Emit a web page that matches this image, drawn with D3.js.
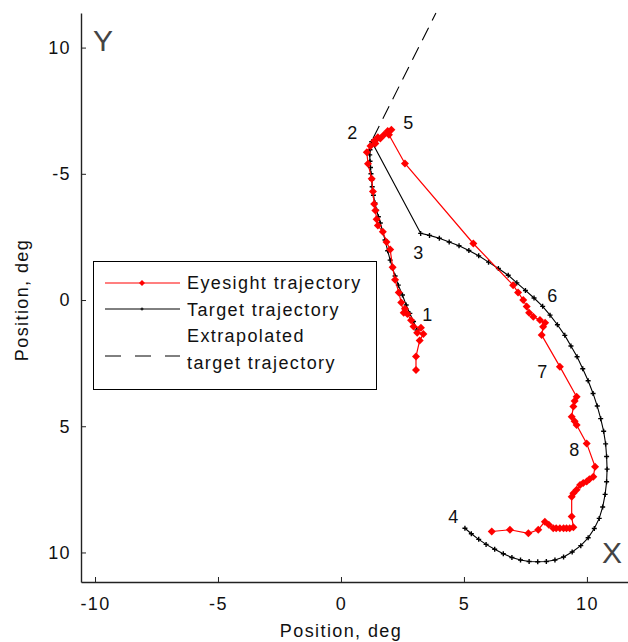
<!DOCTYPE html>
<html lang="en">
  <head>
    <meta charset="UTF-8" />
    <title>trajectory</title>
    <script src="https://cdn.jsdelivr.net/npm/d3@7/dist/d3.min.js"></script>
    <style>
      body { margin: 0; background: #fff; }
      text { font-family: "Liberation Sans", Arial, sans-serif; }
    </style>
  </head>
  <body>
    <div id="wrapper"></div>
    <script>
      // target trajectory (black, + markers), deg
      const targetX = [3.09, 2.95, 2.8, 2.65, 2.5, 2.33, 2.2, 2.1, 2.0, 1.9, 1.79, 1.7, 1.6, 1.52, 1.45, 1.38, 1.32, 1.27, 1.25, 1.22, 1.2, 1.18, 1.17, 1.18, 1.2, 1.25,
        3.24, 3.6, 4.0, 4.4, 4.8, 5.2, 5.6, 6.0, 6.4, 6.8, 7.15, 7.5, 7.85, 8.2, 8.5, 8.8, 9.1, 9.35, 9.6, 9.83, 10.05, 10.25, 10.42, 10.56, 10.68, 10.76, 10.8, 10.82, 10.8, 10.74, 10.64, 10.5, 10.3, 10.05, 9.75, 9.4, 9.05, 8.7, 8.35, 8.0, 7.65, 7.3, 6.95, 6.6, 6.25, 5.9, 5.6, 5.3, 5.04];
      const targetY = [1.19, 0.85, 0.53, 0.2, -0.2, -0.59, -0.95, -1.25, -1.58, -1.95, -2.38, -2.7, -3.05, -3.3, -3.56, -3.85, -4.15, -4.49, -4.75, -5.0, -5.25, -5.5, -5.75, -5.95, -6.12, -6.27,
        -2.64, -2.56, -2.45, -2.3, -2.15, -1.96, -1.75, -1.5, -1.25, -0.98, -0.68, -0.38, -0.08, 0.25, 0.6, 0.98, 1.4, 1.82, 2.25, 2.72, 3.2, 3.7, 4.2, 4.7, 5.2, 5.7, 6.2, 6.7, 7.2, 7.7, 8.2, 8.65, 9.05, 9.42, 9.73, 9.98, 10.18, 10.3, 10.36, 10.37, 10.36, 10.3, 10.2, 10.05, 9.87, 9.68, 9.48, 9.26, 9.04];

      // eyesight trajectory (red, diamond markers), deg
      const eyeX = [3.05, 3.05, 3.2, 3.35, 3.1, 3.25, 2.95, 2.85, 2.7, 2.6, 2.55, 2.45, 2.35, 2.2, 2.1, 2.0, 1.85, 1.7, 1.5, 1.45, 1.4, 1.35, 1.3, 1.25, 1.1, 1.05, 1.2, 1.35, 1.5, 1.4, 1.6, 1.75, 1.9, 2.05, 1.95, 2.6, 5.38,
        7.0, 7.2, 7.41, 7.55, 7.65, 7.82, 8.09, 8.3, 8.22, 8.16, 8.9, 9.58, 9.5, 9.45, 9.38, 9.5, 9.58, 9.99, 10.33, 10.26, 10.1, 9.99, 9.85, 9.72, 9.58, 9.45, 9.38, 9.38, 9.45, 9.3, 9.17, 9.05, 8.9, 8.75, 8.63, 8.45, 8.29, 8.02, 7.62, 6.87, 6.13];
      const eyeY = [2.77, 2.24, 1.6, 1.35, 1.3, 1.1, 1.05, 0.8, 0.55, 0.35, 0.5, 0.1, -0.3, -0.8, -1.3, -2.0, -2.3, -2.7, -2.95, -3.2, -3.55, -3.8, -4.3, -4.8, -5.4, -5.85, -6.1, -6.3, -6.45, -6.2, -6.4, -6.55, -6.7, -6.75, -6.55, -5.41, -2.24,
        -0.59, -0.3, 0.0, 0.26, 0.5, 0.66, 0.79, 0.9, 1.06, 1.39, 2.64, 3.83, 4.0, 4.22, 4.62, 4.8, 4.95, 5.68, 6.6, 7.0, 7.1, 7.19, 7.25, 7.33, 7.52, 7.65, 7.79, 8.58, 9.0, 9.04, 9.04, 9.04, 9.04, 9.04, 9.04, 8.9, 8.78, 9.1, 9.24, 9.1, 9.17];

      // extrapolated target trajectory (dashed)
      const extraX = [1.3, 3.86];
      const extraY = [-6.4, -11.37];

      // numbered annotations
      const annoText = ["1", "2", "3", "4", "5", "6", "7", "8"];
      const annoX = [3.54, 0.49, 3.17, 4.59, 2.76, 8.62, 8.21, 9.51];
      const annoY = [0.59, -6.62, -1.9, 8.59, -7.05, -0.16, 2.85, 5.94];

      const xTicks = [-10, -5, 0, 5, 10];
      const xTickLabels = ["-10", "-5", "0", "5", "10"];
      const yTicks = [-10, -5, 0, 5, 10];
      const yTickLabels = ["10", "-5", "0", "5", "10"];

      const legendLabels = ["Eyesight trajectory", "Target trajectory", "Extrapolated", "target trajectory"];

      const width = 628;
      const height = 642;

      const svg = d3
        .select("#wrapper")
        .append("svg")
        .attr("width", width)
        .attr("height", height);

      const xScale = d3.scaleLinear().domain([-10.57, 11.67]).range([81, 628]);
      const yScale = d3.scaleLinear().domain([-11.37, 11.17]).range([13, 582]);

      const toPts = (xs, ys) => xs.map((x, i) => [x, ys[i]]);
      const target = toPts(targetX, targetY);
      const eye = toPts(eyeX, eyeY);
      const extra = toPts(extraX, extraY);

      const lineGenerator = d3
        .line()
        .x((d) => xScale(d[0]))
        .y((d) => yScale(d[1]));

      const fontCss = "font-size:18px;letter-spacing:1.4px;fill:#111";

      // axes
      const xAxis = svg
        .append("g")
        .attr("transform", `translate(0, ${yScale.range()[1]})`)
        .call(
          d3.axisBottom(xScale)
            .tickValues(xTicks)
            .tickFormat((d, i) => xTickLabels[i])
            .tickSizeInner(-5)
            .tickSizeOuter(0)
            .tickPadding(15)
        );
      const yAxis = svg
        .append("g")
        .attr("transform", `translate(${xScale.range()[0]}, 0)`)
        .call(
          d3.axisLeft(yScale)
            .tickValues(yTicks)
            .tickFormat((d, i) => yTickLabels[i])
            .tickSizeInner(-5)
            .tickSizeOuter(0)
            .tickPadding(10)
        );
      [xAxis, yAxis].forEach((a) => {
        a.attr("font-family", null).attr("font-size", null);
        a.select(".domain").attr("stroke", "#222").attr("stroke-width", 1.4);
        a.selectAll(".tick line").attr("stroke", "#222");
        a.selectAll(".tick text").attr("style", fontCss);
      });

      svg
        .append("text")
        .attr("x", 341)
        .attr("y", 637)
        .attr("text-anchor", "middle")
        .attr("style", fontCss)
        .text("Position, deg");
      svg
        .append("text")
        .attr("transform", "translate(28, 300) rotate(-90)")
        .attr("text-anchor", "middle")
        .attr("style", fontCss)
        .text("Position, deg");

      // extrapolated
      svg
        .append("path")
        .attr("d", lineGenerator(extra))
        .attr("fill", "none")
        .attr("stroke", "#000")
        .attr("stroke-width", 1.1)
        .attr("stroke-dasharray", "14,8");

      // target
      svg
        .append("path")
        .attr("d", lineGenerator(target))
        .attr("fill", "none")
        .attr("stroke", "#000")
        .attr("stroke-width", 1.1);
      const plus = "M-2.5,0H2.5M0,-2.5V2.5";
      svg
        .append("g")
        .selectAll("path")
        .data(target)
        .join("path")
        .attr("transform", (d) => `translate(${xScale(d[0])}, ${yScale(d[1])})`)
        .attr("d", plus)
        .attr("stroke", "#000")
        .attr("stroke-width", 1.4);

      // eyesight
      svg
        .append("path")
        .attr("d", lineGenerator(eye))
        .attr("fill", "none")
        .attr("stroke", "#f00")
        .attr("stroke-width", 1.2);
      const diamond = "M0,-4L4,0L0,4L-4,0Z";
      svg
        .append("g")
        .selectAll("path")
        .data(eye)
        .join("path")
        .attr("transform", (d) => `translate(${xScale(d[0])}, ${yScale(d[1])})`)
        .attr("d", diamond)
        .attr("fill", "#f00");

      // annotations
      svg
        .append("g")
        .selectAll("text")
        .data(annoText)
        .join("text")
        .attr("x", (d, i) => xScale(annoX[i]))
        .attr("y", (d, i) => yScale(annoY[i]))
        .attr("dy", "0.36em")
        .attr("text-anchor", "middle")
        .attr("style", fontCss)
        .text((d) => d);

      svg
        .append("text")
        .attr("x", xScale(11.02))
        .attr("y", yScale(9.98))
        .attr("dy", "0.36em")
        .attr("text-anchor", "middle")
        .attr("style", "font-size:30px;fill:#444")
        .text("X");
      svg
        .append("text")
        .attr("x", xScale(-9.68))
        .attr("y", yScale(-10.3))
        .attr("dy", "0.36em")
        .attr("text-anchor", "middle")
        .attr("style", "font-size:30px;fill:#444")
        .text("Y");

      // legend
      const legend = svg.append("g");
      legend
        .append("rect")
        .attr("x", 93.5)
        .attr("y", 261.5)
        .attr("width", 283)
        .attr("height", 128)
        .attr("fill", "#fff")
        .attr("stroke", "#000")
        .attr("stroke-width", 1);
      legend.append("line").attr("x1", 105).attr("x2", 180).attr("y1", 283).attr("y2", 283).attr("stroke", "#f00").attr("stroke-width", 1.2);
      legend.append("path").attr("transform", "translate(142, 283)").attr("d", "M0,-3L3,0L0,3L-3,0Z").attr("fill", "#f00");
      legend.append("line").attr("x1", 105).attr("x2", 180).attr("y1", 309).attr("y2", 309).attr("stroke", "#000");
      legend.append("path").attr("transform", "translate(142, 309)").attr("d", "M-1.5,0H1.5M0,-1.5V1.5").attr("stroke", "#000");
      legend.append("line").attr("x1", 105).attr("x2", 180).attr("y1", 356).attr("y2", 356).attr("stroke", "#000").attr("stroke-dasharray", "16,14");
      legend
        .selectAll(".lab")
        .data(legendLabels)
        .join("text")
        .attr("class", "lab")
        .attr("x", 187)
        .attr("y", (d, i) => [289, 316, 342, 369][i])
        .attr("style", fontCss)
        .text((d) => d);
    </script>
  </body>
</html>
